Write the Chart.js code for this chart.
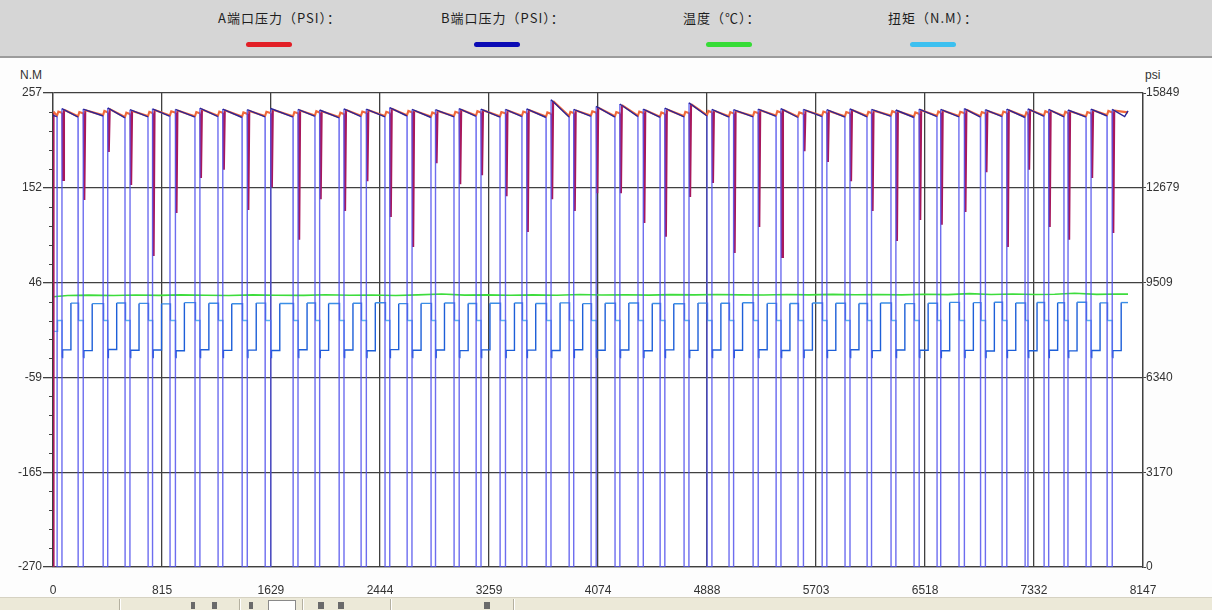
<!DOCTYPE html>
<html>
<head>
<meta charset="utf-8">
<script src="https://cdn.jsdelivr.net/npm/chart.js@4.4.1/dist/chart.umd.min.js"></script>
<style>
  html, body { margin: 0; padding: 0; background: #ffffff; }
  #wrap { position: relative; width: 1212px; height: 610px; overflow: hidden; background: #fdfdfd; }
  #legendBar { position: absolute; left: 0; top: 0; width: 1212px; height: 56px; background: #d6d6d6; border-bottom: 2px solid #9c9c9c; }
  .lg { position: absolute; top: 8px; font: 13px "Noto Sans CJK SC", sans-serif; letter-spacing: 1px; color: #1e1e1e; white-space: nowrap; }
  .sw { position: absolute; top: 42px; width: 46px; height: 5px; border-radius: 3px; }
  .unit { position: absolute; top: 68px; font: 12px "Liberation Sans", Arial, sans-serif; color: #333; }
  #toolbar { position: absolute; left: 0; top: 597px; width: 1212px; height: 13px; background: #ece9d8; border-top: 1px solid #d6d2c2; }
  .sep { position: absolute; top: 1px; width: 1px; height: 12px; background: #b4b0a0; box-shadow: 1px 0 0 #ffffff; }
  .ico { position: absolute; top: 4px; height: 7px; background: #6a6a6a; }
  #chart { position: absolute; left: 0; top: 0; }
</style>
</head>
<body>
<div id="wrap">
  <div id="legendBar">
    <div class="lg" style="left:218px">A端口压力（PSI）：</div>
    <div class="sw" style="left:246px;background:#e21f26"></div>
    <div class="lg" style="left:441px">B端口压力（PSI）：</div>
    <div class="sw" style="left:474px;background:#0b0bb5"></div>
    <div class="lg" style="left:683px">温度（℃）：</div>
    <div class="sw" style="left:706px;background:#36dc36"></div>
    <div class="lg" style="left:888px">扭矩（N.M）：</div>
    <div class="sw" style="left:910px;background:#3cc0f0"></div>
  </div>
  <div class="unit" style="left:20px">N.M</div>
  <div class="unit" style="left:1145px">psi</div>
  <div id="toolbar">
    <div class="sep" style="left:119px"></div>
    <div class="ico" style="left:191px;width:4px"></div>
    <div class="ico" style="left:212px;width:5px"></div>
    <div class="sep" style="left:239px"></div>
    <div class="ico" style="left:249px;width:4px"></div>
    <div style="position:absolute;left:268px;top:2px;width:26px;height:10px;background:#fff;border:1px solid #8a8a8a"></div>
    <div class="sep" style="left:302px"></div>
    <div class="ico" style="left:318px;width:6px"></div>
    <div class="ico" style="left:338px;width:6px"></div>
    <div class="sep" style="left:390px"></div>
    <div class="ico" style="left:484px;width:6px"></div>
    <div class="sep" style="left:513px"></div>
  </div>
  <canvas id="chart" width="1212" height="610"></canvas>
</div>
<script>
// Axis ranges and tick labels
const xMax = 8147;
const xTicks = [0, 815, 1629, 2444, 3259, 4074, 4888, 5703, 6518, 7332, 8147];
const torqueTicks = [-270, -165, -59, 46, 152, 257];
const psiTicks = [0, 3170, 6340, 9509, 12679, 15849];

// Sample index at which port B is vented in each cycle
const cycleStart = [30, 187, 374, 538, 710, 874, 1061, 1233, 1413, 1585,
  1794, 1958, 2138, 2302, 2481, 2646, 2825, 2997, 3162, 3341,
  3505, 3685, 3857, 4021, 4200, 4372, 4537, 4716, 4888, 5052,
  5232, 5404, 5568, 5748, 5919, 6084, 6263, 6435, 6607, 6771,
  6932, 7093, 7265, 7407, 7556, 7721, 7878];
// Number of samples port B stays at zero pressure
const bZeroLen = [36, 38, 34, 37, 33, 40, 36, 35, 38, 42,
  37, 34, 36, 39, 35, 37, 33, 38, 36, 40,
  35, 37, 34, 38, 36, 39, 35, 37, 36, 34,
  38, 36, 40, 35, 37, 33, 36, 38, 27, 40,
  36, 35, 22, 34, 30, 37, 38];
// Port B pressure right after re-pressurising (psi)
const bPeak = [15330, 15310, 15350, 15290, 15320, 15300, 15340, 15310, 15290, 15330,
  15300, 15280, 15320, 15310, 15360, 15300, 15290, 15330, 15310, 15300,
  15320, 15620, 15300, 15400, 15480, 15310, 15340, 15520, 15300, 15290,
  15310, 15330, 15300, 15290, 15320, 15300, 15280, 15310, 15300, 15330,
  15290, 15310, 15320, 15300, 15280, 15310, 15300];
// Port B pressure just before venting (psi)
const bLow = [15060, 15040, 15080, 15020, 15050, 15070, 15040, 15060, 15030, 15050,
  15040, 15070, 15020, 15060, 15050, 15080, 15030, 15050, 15070, 15040,
  15060, 15030, 15050, 15070, 15040, 15060, 15030, 15050, 15080, 15040,
  15050, 15070, 15030, 15060, 15040, 15050, 15070, 15030, 15060, 15050,
  15040, 15060, 15030, 15070, 15050, 15040, 15080];
// Lowest port A pressure during each switching dip (psi)
const aDipMin = [12940, 12270, 13880, 12770, 10400, 11840, 13010, 13280, 11940, 12700,
  10940, 12300, 11900, 12900, 11700, 10700, 13500, 12800, 13100, 12400,
  11200, 12300, 11900, 12500, 12500, 11500, 11040, 12370, 12840, 10500,
  11370, 10370, 13900, 13540, 12900, 11900, 10900, 11600, 11440, 11870,
  13200, 10700, 13280, 11370, 10940, 13010, 11170];
// Torque plateaus per cycle (N.M)
const torqueHigh = [23.4, 22.8, 23.6, 23.1, 22.6, 23.9, 23.2, 22.7, 23.4, 23.0,
  23.5, 22.9, 23.3, 23.8, 22.8, 23.1, 23.6, 22.9, 23.2, 23.5,
  23.0, 23.7, 22.8, 23.3, 23.6, 23.0, 22.7, 23.4, 23.2, 23.8,
  23.1, 22.9, 23.5, 23.2, 23.0, 23.6, 22.8, 23.3, 24.2, 23.9,
  24.4, 23.6, 24.1, 23.8, 24.3, 23.7, 24.0];
const torqueLow = [-28.6, -29.4, -28.2, -29.0, -28.8, -29.6, -28.4, -29.1, -28.9, -29.3,
  -28.5, -29.2, -28.7, -29.5, -28.3, -29.0, -28.8, -29.4, -28.6, -29.1,
  -28.9, -29.3, -28.4, -29.0, -28.7, -29.5, -28.6, -29.2, -28.8, -29.0,
  -28.5, -29.3, -28.9, -29.1, -28.4, -29.4, -28.7, -29.0, -29.6, -29.2,
  -29.8, -29.1, -29.5, -29.0, -29.7, -29.3, -29.4];
const torqueStart = -8;
const torqueMid = 4;
const torqueKick = -37;
// Oil temperature sampled once per cycle (℃)
const tempStart = 30.5;
const tempC = [31.8, 32.3, 31.9, 32.4, 32.0, 32.6, 32.1, 31.8, 32.5, 32.2,
  32.0, 32.7, 32.2, 32.4, 31.9, 32.6, 33.6, 32.3, 32.5, 32.1,
  32.6, 32.2, 32.9, 32.4, 32.7, 32.3, 32.8, 32.5, 33.0, 32.6,
  32.4, 32.9, 32.6, 33.1, 32.7, 33.0, 32.6, 33.2, 32.8, 33.9,
  33.0, 33.6, 32.9, 33.3, 34.4, 33.1, 33.5];
const tempEnd = 33.4;
// Last logged sample and the closing pressure readings
const endSample = 8035;
const bTail = [15060, 15250];
const aTail = 15200;

// Build the point tables for the line datasets
const bPts = [{ x: 0, y: 15100 }];
const aPts = [{ x: 0, y: 0 }, { x: 4, y: 15220 }];
const tqPts = [{ x: 0, y: torqueStart }];
const tPts = [{ x: 0, y: tempStart }];
cycleStart.forEach((u, i) => {
  const z = bZeroLen[i];
  bPts.push({ x: u, y: bLow[i] }, { x: u + 1, y: 0 }, { x: u + z, y: 0 }, { x: u + z + 1, y: bPeak[i] });
  aPts.push({ x: u, y: bLow[i] + 30 }, { x: u + 10, y: bLow[i] + 170 }, { x: u + z + 5, y: bLow[i] + 120 },
            { x: u + z + 9, y: aDipMin[i] }, { x: u + z + 16, y: bPeak[i] - 40 });
  // each torque value holds until the next point (step-before drawing)
  tqPts.push({ x: u + 4, y: torqueMid }, { x: u + z + 2, y: torqueKick }, { x: u + z + 6, y: torqueLow[i] },
             { x: u + z + 68, y: torqueHigh[i] });
  tPts.push({ x: u + 80, y: tempC[i] });
});
bPts.push({ x: endSample - 25, y: bTail[0] }, { x: endSample, y: bTail[1] });
aPts.push({ x: endSample, y: aTail });
tqPts.push({ x: endSample, y: torqueHigh[torqueHigh.length - 1] });
tPts.push({ x: endSample, y: tempEnd });

const gridColor = '#404040';
const tickFont = { family: '"Liberation Sans", Arial, sans-serif', size: 12 };
const fixTicks = list => scale => { scale.ticks = list.map(v => ({ value: v })); };

// Plot background and short minor ticks on the torque axis
const plotBg = {
  id: 'plotBg',
  beforeDraw(chart) {
    const { ctx, chartArea: a } = chart;
    ctx.save();
    ctx.fillStyle = '#ffffff';
    ctx.fillRect(a.left, a.top, a.right - a.left, a.bottom - a.top);
    ctx.restore();
  }
};
const minorTicks = {
  id: 'minorTicks',
  afterDraw(chart) {
    const s = chart.scales.y, ctx = chart.ctx;
    ctx.save();
    ctx.strokeStyle = gridColor;
    ctx.lineWidth = 1;
    for (let k = 0; k < torqueTicks.length - 1; k++) {
      const lo = torqueTicks[k], hi = torqueTicks[k + 1];
      for (let m = 1; m < 5; m++) {
        const py = Math.round(s.getPixelForValue(lo + (hi - lo) * m / 5)) + 0.5;
        ctx.beginPath();
        ctx.moveTo(s.right - 4, py);
        ctx.lineTo(s.right, py);
        ctx.stroke();
      }
    }
    ctx.restore();
  }
};

new Chart(document.getElementById('chart'), {
  type: 'line',
  data: {
    datasets: [
      {
        label: 'B端口压力（PSI）',
        data: bPts, yAxisID: 'y1', order: 0, borderWidth: 1.4,
        borderColor: '#2a2496',
        segment: {
          borderColor: c => (Math.abs(c.p1.parsed.y - c.p0.parsed.y) > 3000 || c.p0.parsed.y < 1000)
            ? 'rgba(84,84,236,0.85)' : '#2a2496'
        }
      },
      {
        label: 'A端口压力（PSI）',
        data: aPts, yAxisID: 'y1', order: 1, borderWidth: 2.1,
        borderColor: '#f0683a',
        segment: {
          borderColor: c => (c.p0.parsed.y < 14600 || c.p1.parsed.y < 14600) ? '#a8185c' : '#f0683a'
        }
      },
      {
        label: '温度（℃）',
        data: tPts, yAxisID: 'y', order: 2, borderWidth: 1.6, borderColor: '#3ddc3d'
      },
      {
        label: '扭矩（N.M）',
        data: tqPts, yAxisID: 'y', order: 3, borderWidth: 1.4, stepped: 'before',
        borderColor: '#3a8ee6',
        segment: {
          borderColor: c => c.p0.parsed.y < -15 ? '#1d5fd8' : (c.p0.parsed.y > 15 ? '#3a8ee6' : '#5ab6f2')
        }
      }
    ]
  },
  options: {
    responsive: false,
    animation: false,
    events: [],
    layout: { padding: { top: 93, left: 0, right: 0, bottom: 0 } },
    plugins: { legend: { display: false }, tooltip: { enabled: false } },
    elements: { point: { radius: 0 }, line: { tension: 0 } },
    scales: {
      x: {
        type: 'linear', min: 0, max: xMax,
        afterBuildTicks: fixTicks(xTicks),
        afterFit: s => { s.height = 43; },
        grid: { color: gridColor, lineWidth: 1.3, drawTicks: false },
        border: { color: gridColor, width: 1.3 },
        ticks: { autoSkip: false, maxRotation: 0, padding: 16, color: '#333', font: tickFont, callback: v => String(v) }
      },
      y: {
        position: 'left', min: -270, max: 257,
        afterBuildTicks: fixTicks(torqueTicks),
        afterFit: s => { s.width = 53; },
        grid: { color: gridColor, lineWidth: 1.3, tickLength: 10, tickColor: gridColor },
        border: { color: gridColor, width: 1.3 },
        ticks: { padding: 1, color: '#333', font: tickFont, callback: v => String(v) }
      },
      y1: {
        position: 'right', min: 0, max: 15849,
        afterBuildTicks: fixTicks(psiTicks),
        afterFit: s => { s.width = 69; },
        grid: { drawOnChartArea: false, tickLength: 3, tickColor: gridColor },
        border: { color: gridColor, width: 1.3 },
        ticks: { padding: 0, color: '#333', font: tickFont, callback: v => String(v) }
      }
    }
  },
  plugins: [plotBg, minorTicks]
});
</script>
</body>
</html>
